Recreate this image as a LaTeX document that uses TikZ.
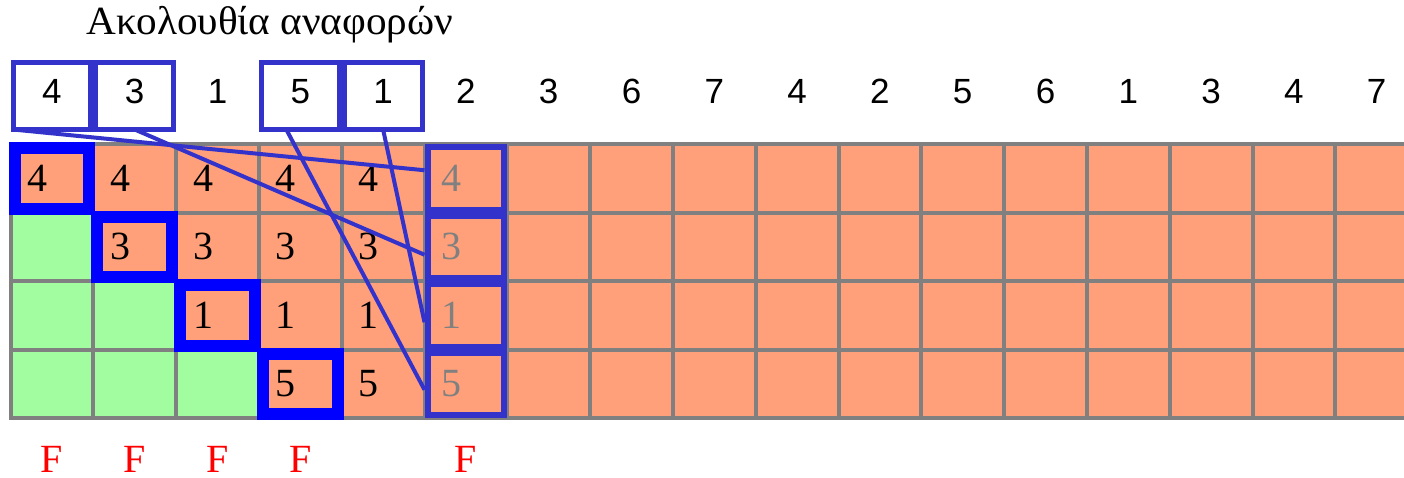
\documentclass[tikz,border=0pt]{standalone}
\usepackage{fontspec}
\setmainfont{Liberation Serif}
\newfontfamily\refsans{Liberation Sans}
\newfontfamily\titlefont[FakeStretch=1.03]{Liberation Serif}
\usetikzlibrary{positioning}
\definecolor{salm}{HTML}{FFA07A}
\definecolor{grn}{HTML}{A2FCA0}
\definecolor{lineblue}{HTML}{3333CC}
\definecolor{gridgray}{HTML}{808080}
\tikzset{
  cell/.style={rectangle, draw=gridgray, line width=4pt, fill=salm, outer sep=0pt,
               inner sep=0pt, minimum width=82.8pt, minimum height=68.5pt},
  val/.style={inner sep=0pt, font=\fontsize{40}{44}\selectfont},
  ref/.style={rectangle, outer sep=0pt, inner sep=0pt, minimum width=77.8pt,
              minimum height=67pt, text height=25pt, text depth=10pt,
              font=\refsans\fontsize{35}{40}\selectfont},
  inmem/.style={draw=lineblue, line width=5pt},
  nomem/.style={},
  cur/.style={draw=blue, line width=12pt},
  slot/.style={draw=lineblue, line width=6pt},
  link/.style={draw=lineblue, line width=4pt},
  fault/.style={inner sep=0pt, text=red, font=\fontsize{40}{44}\selectfont}
}
\begin{document}
\begin{tikzpicture}[x=1pt, y=-1pt]
\useasboundingbox (0,0) rectangle (1404,477);
\clip (0,0) rectangle (1404,477);
\node[anchor=base, inner sep=0pt, font=\titlefont\fontsize{40}{44}\selectfont] (ttl) at (270,34) {Ακολουθία αναφορών};
% reference string
\foreach \pg/\st [count=\k] in {4/inmem,3/inmem,1/nomem,5/inmem,1/inmem,2/nomem,3/nomem,6/nomem,7/nomem,4/nomem,2/nomem,5/nomem,6/nomem,1/nomem,3/nomem,4/nomem,7/nomem}
  \node[ref,\st] (r\k) at ({10.5+82.8*(\k-0.5)},96) {\pg};
% frames
\foreach \row in {1,...,4}
  \foreach \col in {1,...,17}{
    \ifnum\col<\row \def\cfill{grn}\else\def\cfill{salm}\fi
    \node[cell, fill=\cfill] (c\row-\col) at ({10.5+82.8*(\col-0.5)},{144+68.5*(\row-0.5)}) {};
  }
\foreach \row/\pg in {1/4,2/3,3/1,4/5}{
  \foreach \col in {\row,...,5}
    \node[val] (v\row-\col) at ([xshift=27pt]c\row-\col.west) {\pg};
  \node[val, text=gridgray] (v\row-6) at ([xshift=27pt]c\row-6.west) {\pg};
  \draw[slot] ([xshift=3pt,yshift=-3pt]c\row-6.north west) rectangle ([xshift=-3pt,yshift=3pt]c\row-6.south east);
  \draw[cur] ([xshift=4pt,yshift=-4pt]c\row-\row.north west) rectangle ([xshift=-4pt,yshift=4pt]c\row-\row.south east);
}
\draw[link] (r1.south west) -- ([yshift=8pt]c1-6.west);
\draw[link] (r2.south) -- ([yshift=-8pt]c2-6.west);
\draw[link] (r5.south) -- ([yshift=-7pt]c3-6.west);
\draw[link] ([xshift=-14pt]r4.south) -- ([yshift=-6pt]c4-6.west);
% page faults
\foreach \col in {1,2,3,4,6}
  \node[fault, below=28pt of c4-\col] (f\col) {F};
\end{tikzpicture}
\end{document}
